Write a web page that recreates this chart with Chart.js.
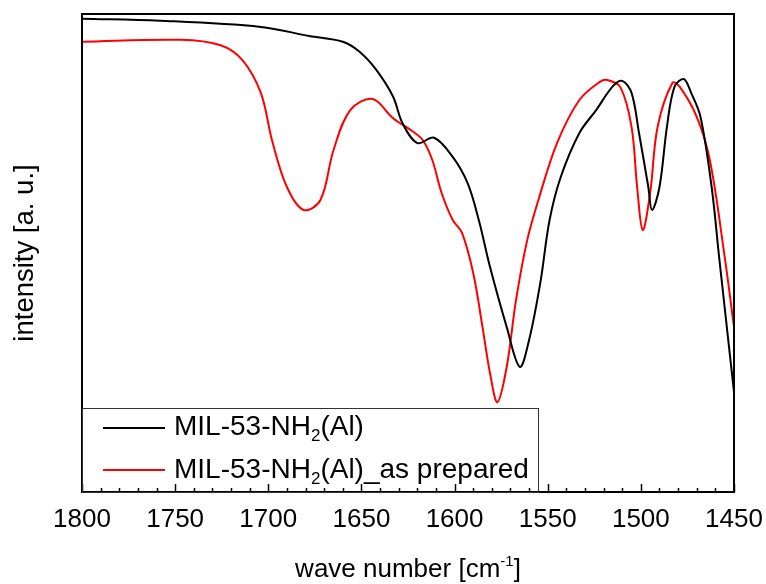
<!DOCTYPE html>
<html>
<head>
<meta charset="utf-8">
<script src="https://cdn.jsdelivr.net/npm/chart.js@4"></script>
<style>
    body { margin: 0; background: #fff; }
    #wrap { position: relative; width: 766px; height: 584px; font-family: "Liberation Sans", Arial, sans-serif; color: #000; }
    #legend { position: absolute; left: 82px; top: 408px; width: 455px; height: 83px; border: 1px solid #333; }
    .swatch { position: absolute; left: 20px; width: 62px; height: 2px; }
    .entry { position: absolute; left: 91px; font-size: 28px; line-height: 28px; white-space: nowrap; }
    .entry sub { font-size: 17px; line-height: 0; vertical-align: -6px; }
    #xtitle { position: absolute; left: 82px; width: 652px; top: 555px; text-align: center; font-size: 26px; line-height: 26px; }
    #xtitle sup { font-size: 15px; line-height: 0; vertical-align: 11px; }
</style>
</head>
<body>
<div id="wrap">
    <canvas id="chart" width="766" height="584"></canvas>
    <div id="legend">
        <div class="swatch" style="top:18px;background:#000"></div>
        <div class="entry" style="top:3px">MIL-53-NH<sub>2</sub>(Al)</div>
        <div class="swatch" style="top:60px;background:#f00"></div>
        <div class="entry" style="top:46px">MIL-53-NH<sub>2</sub>(Al)_as prepared</div>
    </div>
    <div id="xtitle">wave number [cm<sup>-1</sup>]</div>
</div>
<script>
// wave numbers (cm-1) and intensity (a. u.)
const blackWave = [1800, 1758, 1704, 1678, 1660, 1651, 1642, 1633, 1628, 1620,
    1611, 1601, 1593, 1587, 1581, 1572, 1565, 1560, 1554, 1549,
    1543, 1533, 1524, 1515, 1510, 1505, 1501, 1496, 1494, 1490,
    1486, 1482, 1477, 1473, 1468, 1462, 1458, 1450];
const blackIntensity = [99.0, 98.6, 97.3, 95.4, 94.2, 92.1, 88.3, 82.7, 77.2, 73.0,
    74.1, 70.1, 64.6, 56.9, 47.1, 34.5, 26.2, 31.8, 43.7, 56.9,
    65.9, 75.1, 79.9, 84.9, 86.0, 83.5, 75.1, 63.8, 59.0, 63.8,
    76.4, 84.7, 86.4, 83.5, 78.5, 63.8, 49.2, 20.9];

const redWave = [1800, 1747, 1726, 1714, 1704, 1698, 1690, 1681, 1672, 1665,
    1656, 1644, 1633, 1622, 1617, 1612, 1607, 1601, 1596, 1590,
    1585, 1581, 1577, 1572, 1567, 1561, 1555, 1545, 1533, 1522,
    1518, 1511, 1505, 1502, 1499, 1495, 1491, 1483, 1479, 1470,
    1463, 1455, 1450];
const redIntensity = [94.2, 94.6, 93.5, 90.4, 83.5, 73.6, 63.8, 59.0, 61.1, 71.5,
    79.9, 82.2, 78.2, 75.3, 73.6, 69.5, 62.6, 56.9, 54.2, 45.8,
    34.5, 24.9, 18.8, 26.2, 40.2, 52.7, 61.1, 73.0, 82.0, 85.8,
    86.2, 84.7, 76.4, 63.8, 54.8, 62.6, 76.4, 85.6, 84.7, 78.5,
    69.5, 49.2, 34.5];

const seriesNames = ['MIL-53-NH2(Al)', 'MIL-53-NH2(Al)_as prepared'];
const xMin = 1450, xMax = 1800, xStep = 50, xMinorStep = 10;

function toPoints(xs, ys) {
    return xs.map((x, i) => ({ x: x, y: ys[i] }));
}

const FONT = '"Liberation Sans", Arial, sans-serif';

// inward ticks + frame round the plot
const framePlugin = {
    id: 'frame',
    afterDraw(chart) {
        const ctx = chart.ctx;
        const a = chart.chartArea;
        const xs = chart.scales.x;
        ctx.save();
        ctx.strokeStyle = '#000';
        ctx.lineWidth = 1.5;
        for (let v = xMin; v <= xMax; v += xMinorStep) {
            const px = Math.round(xs.getPixelForValue(v)) + 0.5;
            const len = (v % xStep === 0) ? 8 : 4;
            ctx.beginPath();
            ctx.moveTo(px, a.bottom);
            ctx.lineTo(px, a.bottom - len);
            ctx.stroke();
        }
        ctx.lineWidth = 2;
        ctx.strokeRect(a.left, a.top, a.right - a.left, a.bottom - a.top);
        ctx.restore();
    }
};

new Chart(document.getElementById('chart'), {
    type: 'line',
    data: {
        datasets: [{
            label: seriesNames[0],
            data: toPoints(blackWave, blackIntensity),
            borderColor: '#000',
            borderWidth: 2,
            pointRadius: 0,
            tension: 0.35
        }, {
            label: seriesNames[1],
            data: toPoints(redWave, redIntensity),
            borderColor: '#f00',
            borderWidth: 2,
            pointRadius: 0,
            tension: 0.35
        }]
    },
    options: {
        responsive: false,
        animation: false,
        devicePixelRatio: 1,
        layout: { padding: { top: 14, right: 32, left: 0, bottom: 0 } },
        plugins: {
            legend: { display: false },
            tooltip: { enabled: false }
        },
        scales: {
            x: {
                type: 'linear',
                reverse: true,
                min: xMin,
                max: xMax,
                grid: { display: false, drawTicks: false },
                border: { display: false },
                ticks: {
                    stepSize: xStep,
                    autoSkip: false,
                    maxRotation: 0,
                    padding: 12,
                    color: '#000',
                    font: { family: FONT, size: 26 },
                    callback: (v) => String(v)
                },
                afterFit(scale) {
                    scale.height = 92;
                    scale.paddingLeft = 0;
                    scale.paddingRight = 0;
                }
            },
            y: {
                min: 0,
                max: 100,
                grid: { display: false, drawTicks: false },
                border: { display: false },
                ticks: { display: false },
                title: {
                    display: true,
                    text: 'intensity [a. u.]',
                    color: '#000',
                    font: { family: FONT, size: 27.5 },
                    padding: { top: 9, bottom: 0 }
                },
                afterFit(scale) { scale.width = 82; }
            }
        }
    },
    plugins: [framePlugin]
});
</script>
</body>
</html>
